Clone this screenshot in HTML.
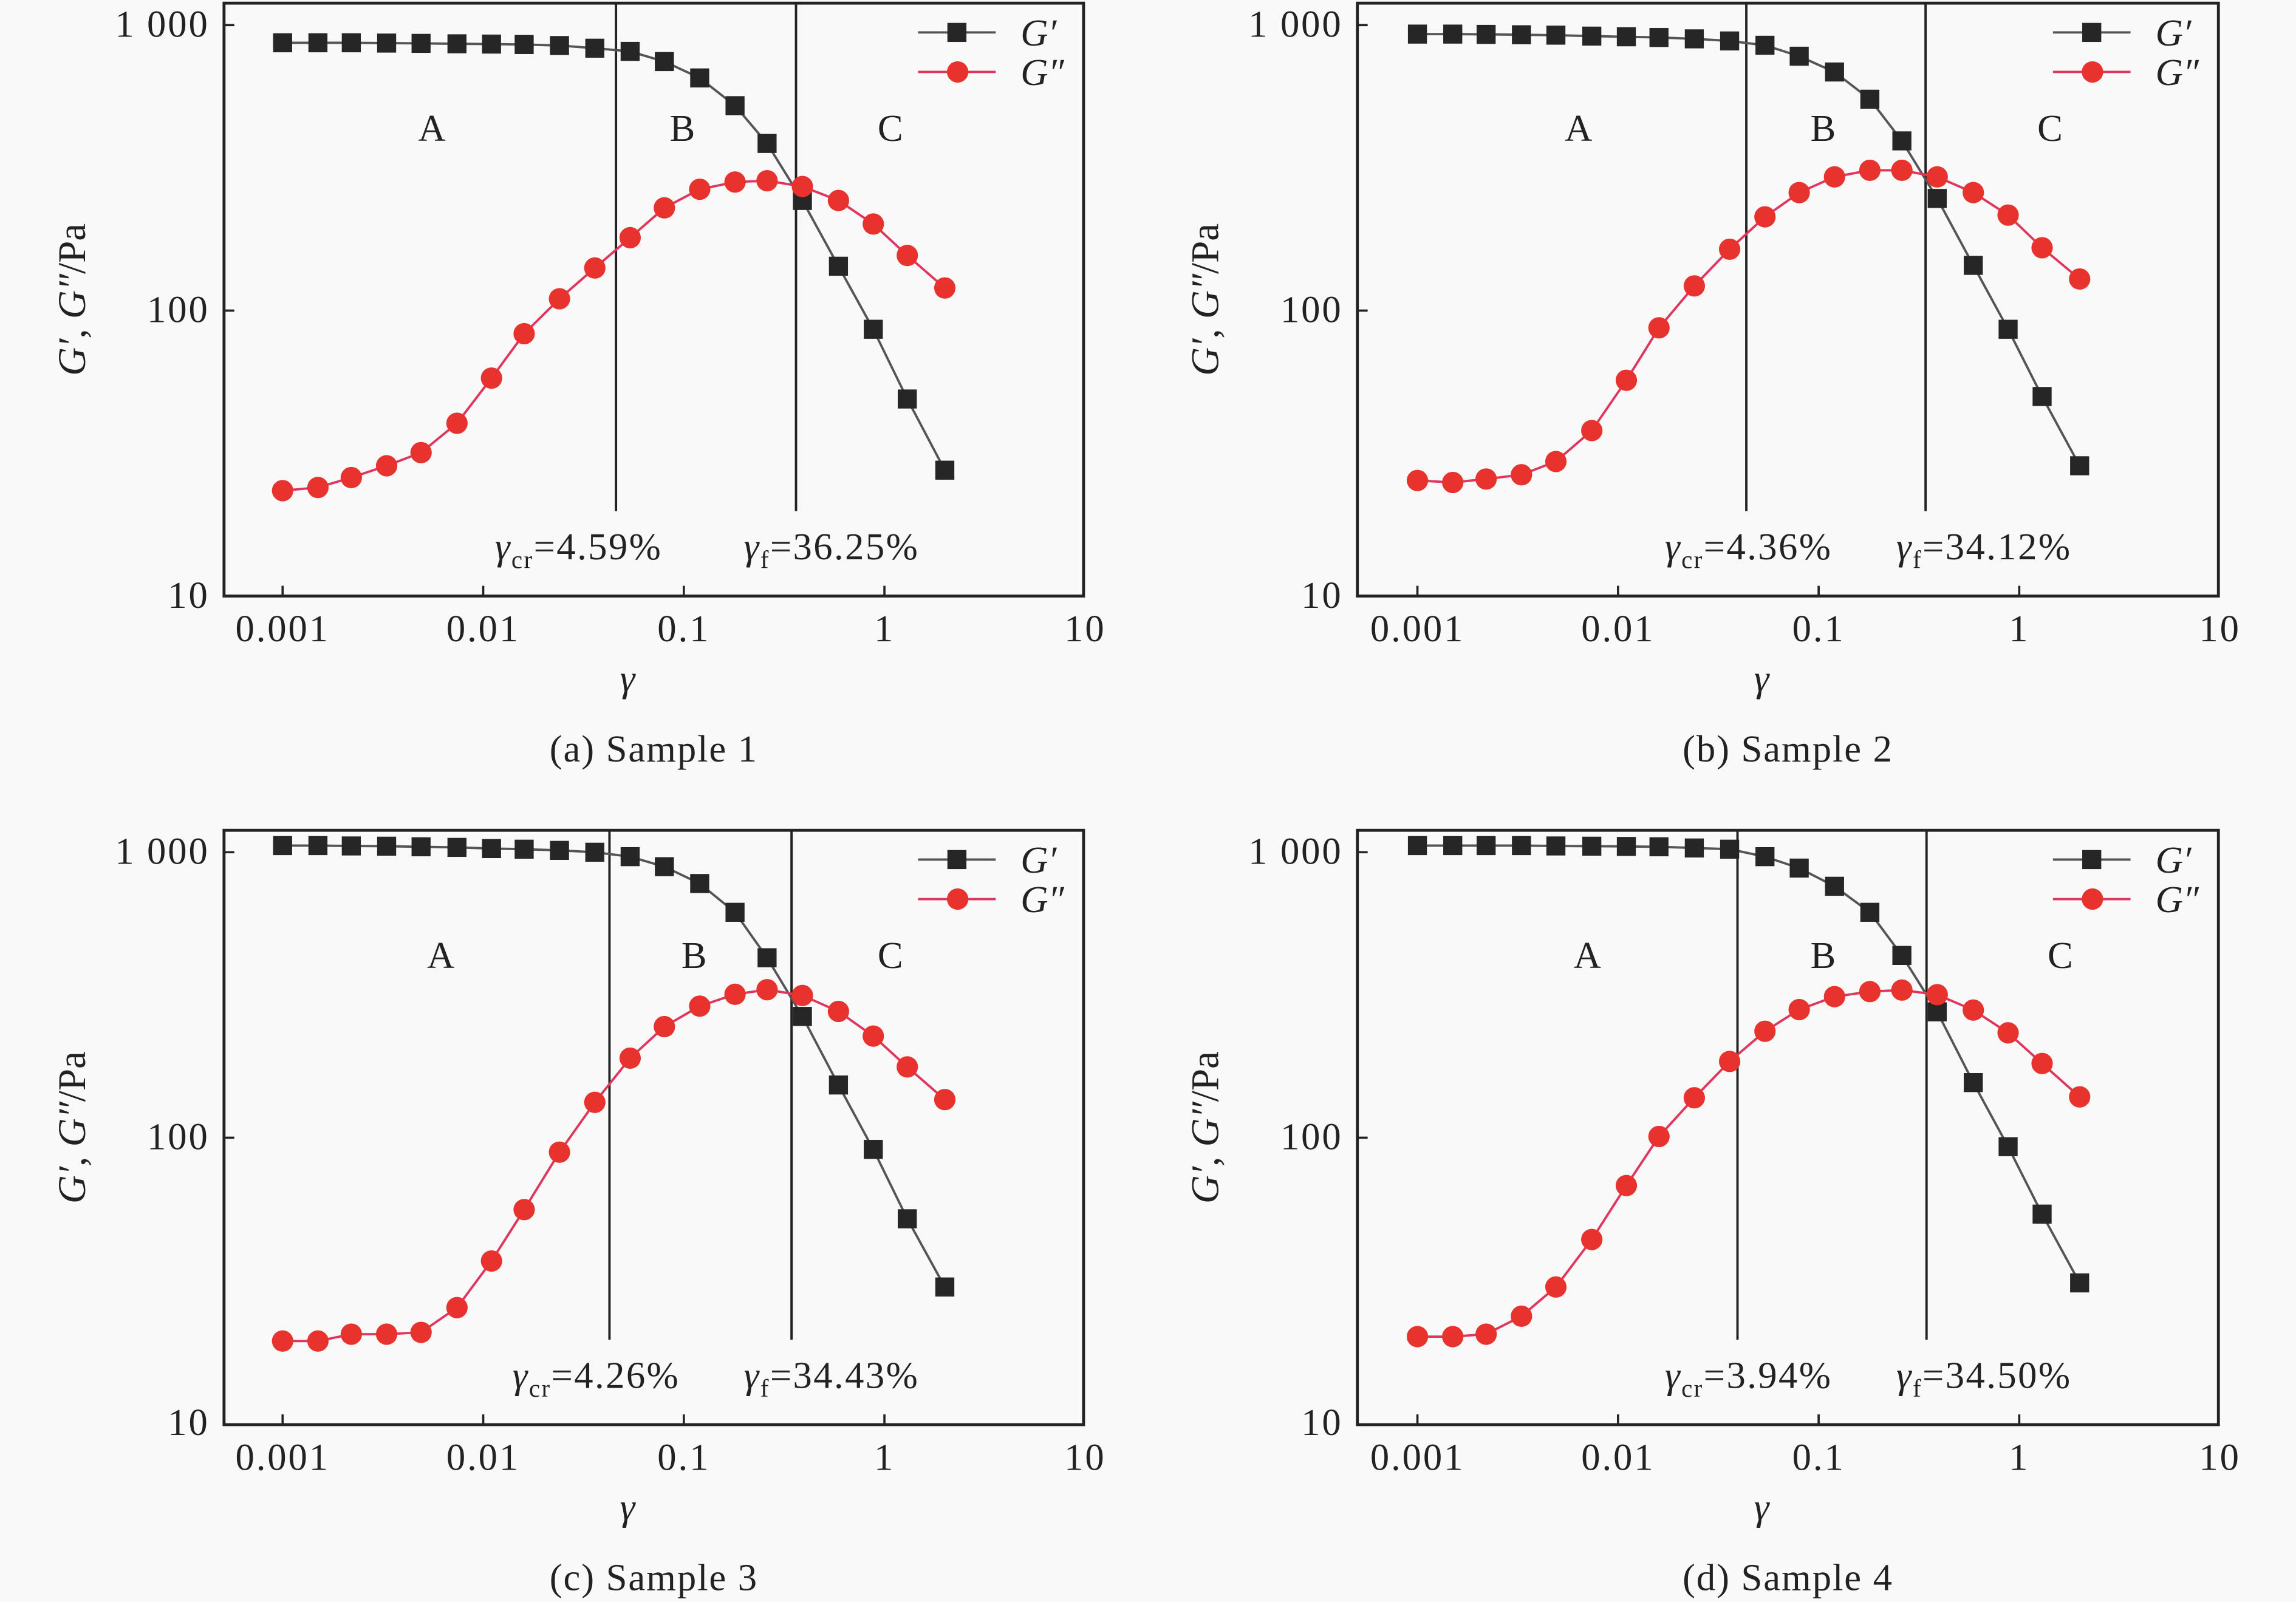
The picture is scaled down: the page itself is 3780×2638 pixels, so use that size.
<!DOCTYPE html>
<html><head><meta charset="utf-8">
<style>
html,body{margin:0;padding:0;background:#f9f9f9;}
svg{display:block;}
svg text{font-family:"Liberation Serif","Times New Roman",serif;}
</style></head>
<body>
<svg id="chart" width="3780" height="2638" viewBox="0 0 1568 1094" xmlns="http://www.w3.org/2000/svg" font-family="Liberation Serif, serif">
<rect x="0" y="0" width="1568" height="1094" fill="#f9f9f9"/>
</svg>
<script>
const strains = [0.001,0.0015,0.0022,0.0033,0.0049,0.0074,0.011,0.016,0.024,0.036,0.054,0.080,0.12,0.18,0.26,0.39,0.59,0.88,1.3,2.0];
const gpA  = [867,867,867,865,863,860,858,855,848,830,809,745,653,522,385,243,143,86,49,27.6];
const gppA = [23.4,24,26,28.6,31.8,40.3,58,83,110,141,180,229,266,282,285,272,243,201,156,120];
const gpB  = [930,930,928,925,922,915,910,905,895,880,850,778,685,550,393,247,144,86,50,28.6];
const gppB = [25.4,25,25.7,26.6,29.6,38,57,87,122,164,213,259,294,310,310,294,259,216,166,129];
const gpC  = [1055,1055,1052,1050,1045,1040,1030,1025,1015,1000,965,890,777,616,427,266,153,91,52,30];
const gppC = [19.4,19.4,20.5,20.5,20.8,25.4,37,56,89,133,190,245,289,318,330,315,277,227,177,136];
const gpD  = [1055,1055,1055,1055,1052,1050,1048,1045,1035,1025,965,880,760,616,435,276,156,93,54,31];
const gppD = [20.1,20.1,20.5,23.7,30,44,68,101,138,185,236,281,312,325,329,317,280,233,182,139];
const gammaCr = [4.59,4.36,4.26,3.94];
const gammaF = [36.25,34.12,34.43,34.50];
const captions = ["(a) Sample 1","(b) Sample 2","(c) Sample 3","(d) Sample 4"];
const xTickVals = [0.001,0.01,0.1,1,10];
const xTickLabels = ["0.001","0.01","0.1","1","10"];
const yTickVals = [1000,100,10];
const yTickLabels = ["1 000","100","10"];
const regionLabels = ["A","B","C"];

const NS = "http://www.w3.org/2000/svg";
const svg = document.getElementById('chart');
function mk(tag, attrs, parent){
  const e = document.createElementNS(NS, tag);
  for (const k in attrs) e.setAttribute(k, attrs[k]);
  (parent||svg).appendChild(e);
  return e;
}
const FS = 26;
const panels = [
  {key:'a', gp:gpA, gpp:gppA, L:153, R:740, T:2, B:407, x0:193, y1000:17, lab1:338, lab2:508, letters:[295,466,608]},
  {key:'b', gp:gpB, gpp:gppB, L:927, R:1515, T:2, B:407, x0:968, y1000:17, lab1:1137, lab2:1295, letters:[1078,1245,1400]},
  {key:'c', gp:gpC, gpp:gppC, L:153, R:740, T:567, B:973, x0:193, y1000:582, lab1:350, lab2:508, letters:[301,474,608]},
  {key:'d', gp:gpD, gpp:gppD, L:927, R:1515, T:567, B:973, x0:968, y1000:582, lab1:1137, lab2:1295, letters:[1084,1245,1407]}
];
const DEC_X = 137, DEC_Y = 195;
panels.forEach((p, i) => {
  const g = mk('g', {});
  
  
  const xs = v => p.x0 + (Math.log10(v) + 3) * DEC_X;
  const ys = v => p.y1000 + (3 - Math.log10(v)) * DEC_Y;

  const fr = mk('rect', {x:p.L, y:p.T, width:p.R-p.L, height:p.B-p.T, fill:'none', stroke:'#222', 'stroke-width':2}, g);
  
  

  yTickVals.forEach((v, k) => {
    const y = ys(v);
    if (v !== 10) mk('line', {x1:p.L, x2:p.L+7, y1:y, y2:y, stroke:'#222', 'stroke-width':1.5}, g);
    const t = mk('text', {x:p.L-10, y:y+8, 'font-size':FS, 'letter-spacing':1.2, 'text-anchor':'end', fill:'#222'}, g);
    t.textContent = yTickLabels[k];
    
    
  });
  xTickVals.forEach((v, k) => {
    const x = xs(v);
    if (v !== 10) mk('line', {x1:x, x2:x, y1:p.B, y2:p.B-7, stroke:'#222', 'stroke-width':1.5}, g);
    const t = mk('text', {x:x, y:p.B+31, 'font-size':FS, 'letter-spacing':1.2, 'text-anchor':'middle', fill:'#222'}, g);
    t.textContent = xTickLabels[k];
    
    
  });
  const cx = (p.L + p.R) / 2;
  const xt = mk('text', {x:cx - 18, y:p.B+65, 'font-size':FS, 'text-anchor':'middle', 'font-style':'italic', fill:'#222'}, g);
  xt.textContent = 'γ';
  
  
  const yc = (p.T + p.B) / 2;
  const ytx = p.L - 95;
  const yt = mk('text', {x:ytx, y:yc, 'font-size':27, 'text-anchor':'middle', fill:'#222', transform:`rotate(-90 ${ytx} ${yc})`}, g);
  yt.innerHTML = '<tspan font-style="italic">G′</tspan>, <tspan font-style="italic">G″</tspan>/Pa';
  
  
  const cap = mk('text', {x:cx, y:p.B+113, 'font-size':FS, 'letter-spacing':0.8, 'text-anchor':'middle', fill:'#222'}, g);
  cap.textContent = captions[i];
  
  

  [gammaCr[i], gammaF[i]].forEach((pc, k) => {
    const x = xs(pc / 100);
    const vl = mk('line', {x1:x, x2:x, y1:p.T, y2:p.B-58, stroke:'#222', 'stroke-width':1.6}, g);
    
    
  });
  const l1 = mk('text', {x:p.lab1, y:p.B-25, 'font-size':FS, 'letter-spacing':1, fill:'#222'}, g);
  l1.innerHTML = '<tspan font-style="italic">γ</tspan><tspan font-size="17" dy="6">cr</tspan><tspan dy="-6">=' + gammaCr[i].toFixed(2) + '%</tspan>';
  
  
  const l2 = mk('text', {x:p.lab2, y:p.B-25, 'font-size':FS, 'letter-spacing':1, fill:'#222'}, g);
  l2.innerHTML = '<tspan font-style="italic">γ</tspan><tspan font-size="17" dy="6">f</tspan><tspan dy="-6">=' + gammaF[i].toFixed(2) + '%</tspan>';
  
  

  regionLabels.forEach((r, k) => {
    const t = mk('text', {x:p.letters[k], y:p.T+94, 'font-size':FS, 'text-anchor':'middle', fill:'#222'}, g);
    t.textContent = r;
    
    
  });

  const gpPts = strains.map((s, k) => xs(s) + ',' + ys(p.gp[k])).join(' ');
  const gl = mk('polyline', {points:gpPts, fill:'none', stroke:'#555', 'stroke-width':1.6}, g);
  
  
  const gppPts = strains.map((s, k) => xs(s) + ',' + ys(p.gpp[k])).join(' ');
  const gl2 = mk('polyline', {points:gppPts, fill:'none', stroke:'#e0365e', 'stroke-width':1.6}, g);
  
  
  strains.forEach((s, k) => {
    const m = mk('rect', {x:xs(s)-6.5, y:ys(p.gp[k])-6.5, width:13, height:13, fill:'#262626'}, g);
    
    
  });
  strains.forEach((s, k) => {
    const m = mk('circle', {cx:xs(s), cy:ys(p.gpp[k]), r:7.3, fill:'#e8322e'}, g);
    
    
  });

  const lx = p.R - 113;
  const ly1 = p.T + 20, ly2 = p.T + 47;
  const lg = mk('g', {}, g);
  
  
  mk('line', {x1:lx, x2:lx+53, y1:ly1, y2:ly1, stroke:'#555', 'stroke-width':1.6}, lg);
  mk('rect', {x:lx+20, y:ly1-6.5, width:13, height:13, fill:'#262626'}, lg);
  const t1 = mk('text', {x:lx+70, y:ly1+9, 'font-size':FS, 'font-style':'italic', fill:'#222'}, lg);
  t1.textContent = 'G′';
  
  
  mk('line', {x1:lx, x2:lx+53, y1:ly2, y2:ly2, stroke:'#e0365e', 'stroke-width':1.6}, lg);
  mk('circle', {cx:lx+27, cy:ly2, r:7.3, fill:'#e8322e'}, lg);
  const t2 = mk('text', {x:lx+70, y:ly2+9, 'font-size':FS, 'font-style':'italic', fill:'#222'}, lg);
  t2.textContent = 'G″';
  
  
});
</script>
</body></html>
